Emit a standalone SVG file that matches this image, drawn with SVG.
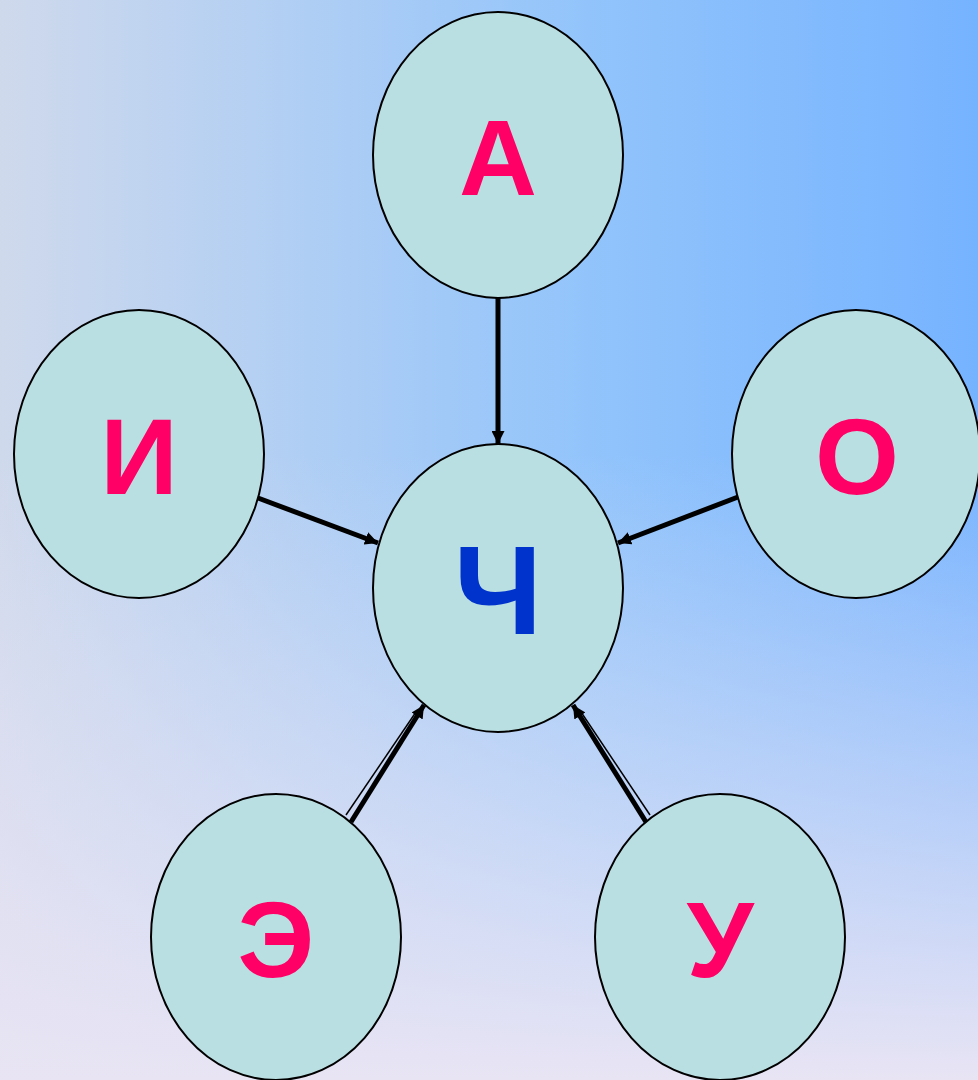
<svg xmlns="http://www.w3.org/2000/svg" width="978" height="1080" viewBox="0 0 978 1080">
<defs>
<linearGradient id="bgH" x1="0" y1="0" x2="1" y2="0">
<stop offset="0" stop-color="#cfd9ec"/>
<stop offset="0.6" stop-color="#92c4fb"/>
<stop offset="1" stop-color="#76b3ff"/>
</linearGradient>
<linearGradient id="bgV" x1="0" y1="0" x2="0" y2="1">
<stop offset="0.42" stop-color="#e8e4f4" stop-opacity="0"/>
<stop offset="1" stop-color="#e8e4f4" stop-opacity="1"/>
</linearGradient>
<marker id="arr" viewBox="0 0 10 10" refX="10" refY="5" markerWidth="2.6" markerHeight="2.6" orient="auto" markerUnits="strokeWidth">
<path d="M0,0 L10,5 L0,10 z" fill="#000"/>
</marker>
<style>
.node ellipse{fill:#badfe2;stroke:#000;stroke-width:2}
.node text{font-family:"Liberation Sans",Arial,sans-serif;font-weight:bold;text-anchor:middle;fill:#ff0066;font-size:108px}
#n-ch text{fill:#0033cc;font-size:126px}
.edge{stroke:#000;stroke-width:5;fill:none}
.thin{stroke:#000;stroke-width:1.5;fill:none}
</style>
</defs>
<rect width="978" height="1080" fill="url(#bgH)"/>
<rect width="978" height="1080" fill="url(#bgV)"/>
<g id="connectors">
<line class="edge" x1="498" y1="298" x2="498" y2="444" marker-end="url(#arr)"/>
<line class="edge" x1="258" y1="498" x2="378" y2="543" marker-end="url(#arr)"/>
<line class="edge" x1="738" y1="497" x2="618" y2="543" marker-end="url(#arr)"/>
<line class="edge" x1="351" y1="822" x2="424" y2="705" marker-end="url(#arr)"/>
<line class="thin" x1="346" y1="815" x2="416" y2="712"/>
<line class="edge" x1="646" y1="822" x2="573" y2="705" marker-end="url(#arr)"/>
<line class="thin" x1="650" y1="815" x2="581" y2="712"/>
</g>
<g id="n-a" class="node"><ellipse cx="498" cy="155" rx="125" ry="143"/><text x="498" y="195">А</text></g>
<g id="n-i" class="node"><ellipse cx="139" cy="454" rx="125" ry="144"/><text x="139" y="494">И</text></g>
<g id="n-o" class="node"><ellipse cx="856" cy="454" rx="124" ry="144"/><text x="857" y="494">О</text></g>
<g id="n-ch" class="node"><ellipse cx="498" cy="588" rx="125" ry="144"/><text x="498" y="634">Ч</text></g>
<g id="n-e" class="node"><ellipse cx="276" cy="937" rx="125" ry="143"/><text x="276" y="977">Э</text></g>
<g id="n-u" class="node"><ellipse cx="720" cy="937" rx="125" ry="143"/><text x="720" y="977">У</text></g>
</svg>
